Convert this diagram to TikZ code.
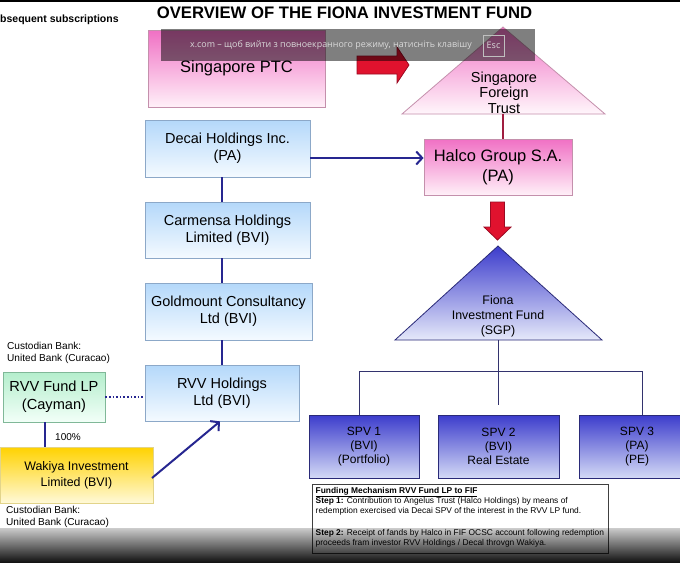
\documentclass[tikz,border=0pt]{standalone}
\usepackage{fontspec}
\setmainfont{Liberation Sans}
\newfontfamily\ovfont{Open Sans}
\usetikzlibrary{arrows.meta,fadings}
\tikzfading[name=fadetop, top color=transparent!80, bottom color=transparent!5]
\definecolor{navy}{HTML}{262690}
\definecolor{treeline}{HTML}{33336E}
\definecolor{lbtop}{HTML}{B4D8FA}
\definecolor{lbbot}{HTML}{F4FAFF}
\definecolor{lbord}{HTML}{8CA8C8}
\definecolor{pktop}{HTML}{F070C4}
\definecolor{pkbot}{HTML}{FFF0F8}
\definecolor{pkbord}{HTML}{C490AC}
\definecolor{bltop}{HTML}{3C3CCC}
\definecolor{blbot}{HTML}{D4DAF6}
\definecolor{blbord}{HTML}{2A2A78}
\definecolor{grtop}{HTML}{B4EECC}
\definecolor{grbot}{HTML}{F2FFF8}
\definecolor{grbord}{HTML}{80B898}
\definecolor{yltop}{HTML}{FFD200}
\definecolor{ylbot}{HTML}{FFF9D8}
\definecolor{ylbord}{HTML}{E2D48A}
\definecolor{redfill}{HTML}{E0122E}
\definecolor{redbord}{HTML}{9A0A22}
\definecolor{redline}{HTML}{A01E40}
\tikzset{
  boxbase/.style={inner sep=0pt, align=center, line width=0.8pt},
  lbluebox/.style={boxbase, draw=lbord, top color=lbtop, bottom color=lbbot, font=\fontsize{14.5}{17}\selectfont},
  pinkbox/.style={boxbase, draw=pkbord, top color=pktop, bottom color=pkbot, font=\fontsize{16.5}{20}\selectfont},
  spvbox/.style={boxbase, draw=blbord, top color=bltop, bottom color=blbot, font=\fontsize{12}{14}\selectfont, minimum height=63pt},
  conn/.style={draw=navy, line width=2pt},
  treeconn/.style={draw=treeline, line width=1pt},
  bluearrow/.style={draw=navy, line width=2pt, -{Straight Barb[length=6pt,width=13pt,line width=2pt]}},
  redblock/.style={fill=redfill, draw=redbord, line width=0.8pt},
  smalltext/.style={font=\fontsize{10.1}{12}\selectfont, align=left, inner sep=0pt},
  notetext/.style={font=\fontsize{8.4}{10}\selectfont, align=left, inner sep=0pt, anchor=north west},
}
\begin{document}
\begin{tikzpicture}[x=1pt,y=-1pt]
\useasboundingbox (0,0) rectangle (680,563);
\fill[white] (0,0) rectangle (680,563);
\fill[black] (0,0) rectangle (680,2);

% headings
\node[font=\bfseries\fontsize{10.5}{12}\selectfont, anchor=west, inner sep=0pt] (sub) at (0,20) {bsequent subscriptions};
\node[font=\bfseries\fontsize{16.7}{19}\selectfont, inner sep=0pt] (title) at (344.5,12.5) {OVERVIEW OF THE FIONA INVESTMENT FUND};

% pink boxes
\node[pinkbox, minimum width=177pt, minimum height=77pt] (sptc) at (236.5,68.5) {Singapore PTC};
\node[pinkbox, minimum width=148pt, minimum height=56pt] (halco) at (498,167) {Halco Group S.A.\\(PA)};

% Singapore Foreign Trust triangle
\coordinate (sftapex) at (503,27);
\coordinate (sftbase) at (503,114);
\draw[draw=pkbord, line width=0.8pt, top color=pktop, bottom color=pkbot!60!white] (sftapex) -- (605,114) -- (402,114) -- cycle;
\node[font=\fontsize{14.5}{15.5}\selectfont, align=center, inner sep=0pt] (sft) at (504,92.5) {Singapore\\Foreign\\Trust};
\draw[draw=redline, line width=1.6pt] (sftbase) -- (sftbase |- halco.north);

% red block arrows
\draw[redblock] (357,56) -- (397,56) -- (397,47) -- (409,65) -- (397,83) -- (397,74) -- (357,74) -- cycle;
\draw[redblock] (490.5,202) -- (504.5,202) -- (504.5,227) -- (511,227) -- (497.5,240) -- (484,227) -- (490.5,227) -- cycle;

% Fiona triangle
\coordinate (fapex) at (498,246);
\coordinate (fbase) at (498,340);
\draw[draw=blbord, line width=0.8pt, top color=bltop, bottom color=blbot!60!white] (fapex) -- (602,340) -- (395,340) -- cycle;
\node[font=\fontsize{12.4}{15}\selectfont, align=center, inner sep=0pt] (fiona) at (498,316) {Fiona\\Investment Fund\\(SGP)};

% SPV boxes
\node[spvbox, minimum width=110pt] (spv1) at (364,446.5) {SPV 1\\(BVI)\\(Portfolio)};
\node[spvbox, minimum width=121pt] (spv2) at (498.5,446.5) {SPV 2\\(BVI)\\Real Estate};
\node[spvbox, minimum width=116pt] (spv3) at (637,446.5) {SPV 3\\(PA)\\(PE)};

% tree
\coordinate (fmid) at (498,405);
\coordinate (bl) at (359,371);
\coordinate (br) at (642,371);
\draw[treeconn] (fbase) -- (fmid);
\draw[treeconn] (bl) -- (br);
\draw[treeconn] (bl) -- (bl |- spv1.north);
\draw[treeconn] (br) -- (br |- spv3.north);

% left column
\node[lbluebox, minimum width=165pt, minimum height=57pt] (decai) at (227.5,148.5) {Decai Holdings Inc.\\(PA)};
\node[lbluebox, minimum width=165pt, minimum height=56pt] (carm) at (227.5,230) {Carmensa Holdings\\Limited (BVI)};
\node[lbluebox, minimum width=167pt, minimum height=57pt] (gold) at (228.5,311.5) {Goldmount Consultancy\\Ltd (BVI)};
\node[lbluebox, minimum width=154pt, minimum height=56pt] (rvvh) at (222,393) {RVV Holdings\\Ltd (BVI)};

\draw[conn] (decai.south -| 221.5,0) -- (carm.north -| 221.5,0);
\draw[conn] (rvvh.north |- carm.south) -- (rvvh.north |- gold.north);
\draw[conn] (rvvh.north |- gold.south) -- (rvvh.north);

\coordinate (dh) at (310,158);
\draw[bluearrow] (dh) -- (dh -| halco.west);

% RVV Fund LP and Wakiya
\node[smalltext, anchor=north west] (cust1) at (7,342) {Custodian Bank:\\United Bank (Curacao)};
\node[boxbase, draw=grbord, top color=grtop, bottom color=grbot, minimum width=102pt, minimum height=50pt, font=\fontsize{14.6}{18}\selectfont] (rvvf) at (54,397) {RVV Fund LP\\(Cayman)};
\node[boxbase, draw=ylbord, top color=yltop, bottom color=ylbot, minimum width=153pt, minimum height=56pt, font=\fontsize{12.4}{16}\selectfont] (wak) at (76.5,475) {Wakiya Investment\\Limited (BVI)};
\node[smalltext, anchor=north west] (cust2) at (6,506) {Custodian Bank:\\United Bank (Curacao)};
\draw[conn] (45,0 |- rvvf.south) -- (45,0 |- wak.north);
\node[font=\fontsize{10}{12}\selectfont, inner sep=0pt, anchor=west] (pct) at (55,437) {100\%};
\draw[draw=navy, line width=1.6pt, dotted] (rvvf.east) -- (rvvf.east -| rvvh.west);
\coordinate (wakout) at (152,478);
\draw[bluearrow] (wakout) -- ([xshift=-2pt]rvvh.south);

% funding box
\node[draw=black!75, line width=0.9pt, minimum width=296pt, minimum height=69pt, inner sep=0pt] (fund) at (460,518.5) {};
\node[notetext] (f0) at (315.5,487) {\bfseries\underline{Funding Mechanism RVV Fund LP to FIF}};
\node[notetext] (f1) at (315.5,497.5) {\textbf{Step 1:} Contribution to Angelus Trust (Halco Holdings) by means of\\redemption exercised via Decai SPV of the interest in the RVV LP fund.};
\node[notetext] (f2) at (315.5,529.5) {\textbf{Step 2:} Receipt of fands by Halco in FIF OCSC account following redemption\\proceeds fram investor RVV Holdings / Decal throvgn Wakiya.};

% fullscreen overlay
\fill[black, opacity=0.5] (161,29) rectangle (535,61);
\node[font=\ovfont\fontsize{8.9}{11}\selectfont, text=white!85!black, anchor=west, inner sep=0pt] (ovtext) at (190,45) {x.com – щоб вийти з повноекранного режиму, натисніть клавішу};
\node[draw=white!75!black, text=white!85!black, font=\ovfont\fontsize{9}{11}\selectfont, minimum width=21pt, minimum height=21pt, inner sep=0pt] (esc) at (493.5,45.5) {Esc};

% bottom dark band
\fill[black, path fading=fadetop] (0,528) rectangle (680,563);
\end{tikzpicture}
\end{document}
